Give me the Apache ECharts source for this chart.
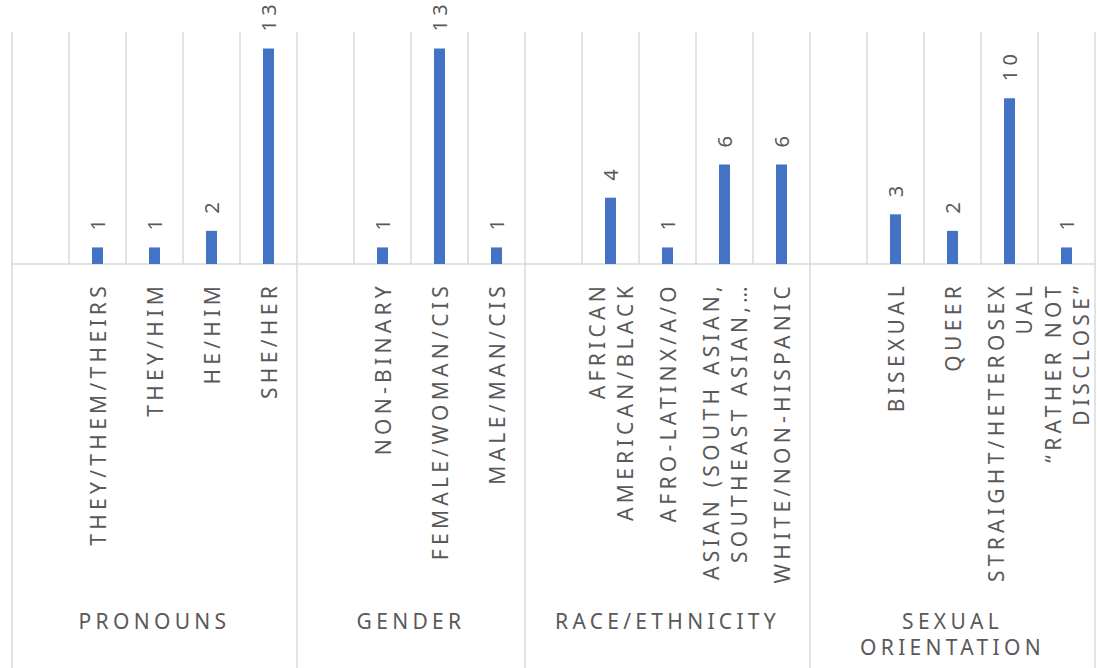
<!DOCTYPE html>
<html>
<head>
<meta charset="utf-8">
<script src="https://cdn.jsdelivr.net/npm/echarts@6/dist/echarts.min.js"></script>
<style>
  html, body { margin: 0; padding: 0; background: #fff; }
  #main { width: 1097px; height: 668px; letter-spacing: 4.3px; }
</style>
</head>
<body>
<div id="main"></div>
<script>
// one slot per bar; empty slot at the start of every group
const categories = [
  '', 'THEY/THEM/THEIRS', 'THEY/HIM', 'HE/HIM', 'SHE/HER',
  '', 'NON-BINARY', 'FEMALE/WOMAN/CIS', 'MALE/MAN/CIS',
  '', 'AFRICAN\nAMERICAN/BLACK', 'AFRO-LATINX/A/O', 'ASIAN (SOUTH ASIAN,\nSOUTHEAST ASIAN,…', 'WHITE/NON-HISPANIC',
  '', 'BISEXUAL', 'QUEER', 'STRAIGHT/HETEROSEX\nUAL', '“RATHER NOT\nDISCLOSE”'
]
const counts = [
  null, 1, 1, 2, 13,
  null, 1, 13, 1,
  null, 4, 1, 6, 6,
  null, 3, 2, 10, 1
]
const groups = ['PRONOUNS', 'GENDER', 'RACE/ETHNICITY', 'SEXUAL\nORIENTATION']
const groupSizes = [5, 4, 5, 5]

// group axis: half-slot ticks so group centres and borders both land on ticks
const halfTicks = []
const groupLabelAt = {}
const groupBorders = {}
let start = 0
groups.forEach((g, i) => {
  groupBorders[start * 2] = true
  groupLabelAt[start * 2 + groupSizes[i]] = g
  start += groupSizes[i]
})
groupBorders[start * 2] = true
for (let i = 0; i <= start * 2; i++) halfTicks.push(groupLabelAt[i] || '')

const gray = '#595959'
const lineColor = '#d9d9d9'
const font = '"Noto Sans", "Open Sans", sans-serif'

const chart = echarts.init(document.getElementById('main'), null, { renderer: 'svg' })

chart.setOption({
  animation: false,
  grid: {
    left: 12,
    right: 2,
    top: 32,
    bottom: 404,
    containLabel: false,
    outerBoundsMode: 'none'
  },
  xAxis: [
    {
      type: 'category',
      data: categories,
      position: 'bottom',
      axisLine: { show: true, lineStyle: { color: lineColor, width: 1.5 } },
      axisTick: { show: false },
      splitLine: { show: true, interval: 0, lineStyle: { color: lineColor, width: 1.5 } },
      axisLabel: {
        interval: 0,
        rotate: 90,
        margin: 18,
        color: gray,
        fontSize: 21,
        lineHeight: 28,
        fontFamily: font,
        align: 'right'
      }
    },
    {
      type: 'category',
      data: halfTicks,
      boundaryGap: false,
      position: 'bottom',
      axisLine: { show: false },
      axisTick: {
        show: true,
        interval: (idx) => !!groupBorders[idx],
        length: 410,
        lineStyle: { color: lineColor, width: 1.5 }
      },
      splitLine: { show: false },
      axisLabel: {
        interval: 0,
        margin: 344,
        color: gray,
        fontSize: 21,
        lineHeight: 26,
        fontFamily: font,
        align: 'center'
      }
    }
  ],
  yAxis: {
    type: 'value',
    min: 0,
    max: 14,
    show: false,
    splitLine: { show: false }
  },
  series: [{
    type: 'bar',
    xAxisIndex: 0,
    data: counts,
    barWidth: 11,
    itemStyle: { color: '#4472c4' },
    label: {
      show: true,
      position: 'top',
      rotate: 90,
      align: 'left',
      verticalAlign: 'middle',
      distance: 17,
      color: gray,
      fontSize: 20,
      fontFamily: font
    }
  }]
})
</script>
</body>
</html>
